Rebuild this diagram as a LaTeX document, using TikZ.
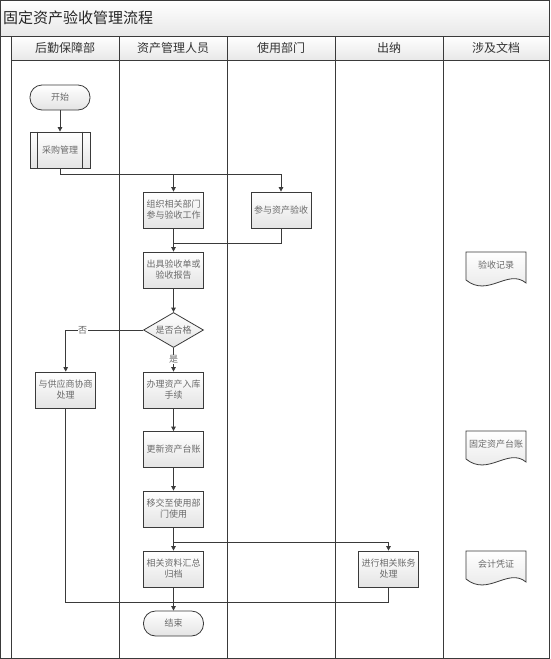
\documentclass[tikz,border=0pt]{standalone}
\usepackage{fontspec}
\setmainfont{Noto Sans CJK SC}
\usetikzlibrary{shapes.geometric,arrows.meta}
\definecolor{linec}{HTML}{3A3A3A}
\definecolor{txtc}{HTML}{6A6A6A}
\definecolor{hdrt}{HTML}{333333}
\definecolor{boxg}{HTML}{E4E4E4}
\definecolor{hdrg}{HTML}{E8E8E8}
\newcommand{\mydoc}[4]{%
  \path[draw=linec, line width=0.8pt, top color=white, bottom color=boxg]
    (#2-30,#3) -- (#2+30,#3) -- (#2+30,#3+31)
    .. controls (#2+12,#3+16) and (#2-8,#3+46) .. (#2-30,#3+28) -- cycle;
  \node[doctext] (#1) at (#2,#3+13) {#4};}
\begin{document}
\begin{tikzpicture}[x=1pt,y=-1pt,
  lane/.style={draw=linec, line width=0.9pt},
  conn/.style={draw=linec, line width=0.8pt},
  arr/.style={conn, -{Triangle[length=4.5pt,width=4.5pt]}},
  box/.style={draw=linec, line width=0.8pt, top color=white, bottom color=boxg,
    minimum width=60pt, minimum height=36pt, inner sep=1pt, align=center,
    font=\fontsize{9}{11}\selectfont, text=txtc},
  term/.style={box, rounded corners=12pt, minimum height=25pt},
  decis/.style={box, shape=diamond, minimum width=60pt, minimum height=35pt, inner sep=0pt, aspect=1.7},
  doctext/.style={font=\fontsize{9}{11}\selectfont, text=txtc, inner sep=1pt},
  hdr/.style={font=\fontsize{12}{14}\selectfont, text=hdrt, inner sep=0pt},
  lbl/.style={font=\fontsize{9}{11}\selectfont, text=txtc, fill=white, inner sep=0.5pt}
]
\fill[white] (0,0) rectangle (550,659);
\useasboundingbox (0,0) rectangle (550,659);
% title band
\shade[top color=white, bottom color=hdrg] (0.5,0.5) rectangle (549.5,36);
\node[anchor=west, font=\fontsize{15}{17}\selectfont, text=black!85, inner sep=0pt] (title) at (3,18) {固定资产验收管理流程};
% header band
\shade[top color=white, bottom color=hdrg] (11,36) rectangle (549.5,60);
\draw[lane] (0.5,0.5) rectangle (549.5,658);
\draw[lane] (0.5,36) -- (549.5,36);
\draw[lane] (11,60) -- (549.5,60);
\foreach \x in {11,119,227,335,443} {\draw[lane] (\x,36) -- (\x,658);}
\node[hdr] (h1) at (65,48) {后勤保障部};
\node[hdr] (h2) at (173,48) {资产管理人员};
\node[hdr] (h3) at (281,48) {使用部门};
\node[hdr] (h4) at (389,48) {出纳};
\node[hdr] (h5) at (496,48) {涉及文档};
% nodes
\node[term] (start) at (60,97.5) {开始};
\node[box] (purch) at (60,150) {采购管理};
\draw[conn] ([xshift=8pt]purch.north west) -- ([xshift=8pt]purch.south west);
\draw[conn] ([xshift=-8pt]purch.north east) -- ([xshift=-8pt]purch.south east);
\node[box] (org) at (173.5,210) {组织相关部门\\参与验收工作};
\node[box] (part) at (281,210) {参与资产验收};
\node[box] (report) at (173.5,270) {出具验收单或\\验收报告};
\node[decis] (dec) at (173.5,330) {是否合格};
\node[box] (sup) at (65.7,390) {与供应商协商\\处理};
\node[box] (proc) at (173.5,390) {办理资产入库\\手续};
\node[box] (ledger) at (173.5,449.5) {更新资产台账};
\node[box] (transfer) at (173.5,509) {移交至使用部\\门使用};
\node[box] (arch) at (173.5,569) {相关资料汇总\\归档};
\node[box] (acct) at (388.5,569) {进行相关账务\\处理};
\node[term] (finish) at (173.5,623.5) {结束};
% documents
\mydoc{d1}{496}{252}{验收记录}
\mydoc{d2}{496}{431}{固定资产台账}
\mydoc{d3}{496}{551}{会计凭证}
% junctions
\coordinate (j1) at (60,174);
\coordinate (j2) at (173.5,243.3);
\coordinate (j3) at (173.5,542.3);
\coordinate (j4) at (173.5,602.3);
% connectors
\draw[arr] (start) -- (purch);
\draw[conn] (purch.south) -- (j1);
\draw[arr] (j1) -| (org.north);
\draw[arr] (j1) -| (part.north);
\draw[arr] (org) -- (report);
\draw[conn] (part.south) |- (j2);
\draw[arr] (report) -- (dec);
\draw[arr] (dec.west) -| node[lbl, pos=0.39] {否} (sup.north);
\draw[arr] (dec.south) -- node[lbl] {是} (proc.north);
\draw[arr] (proc) -- (ledger);
\draw[arr] (ledger) -- (transfer);
\draw[conn] (transfer.south) -- (j3);
\draw[arr] (j3) -- (arch.north);
\draw[arr] (j3) -| (acct.north);
\draw[arr] (arch) -- (finish);
\draw[conn] (acct.south) |- (j4);
\draw[conn] (sup.south) |- (j4);
\end{tikzpicture}
\end{document}
